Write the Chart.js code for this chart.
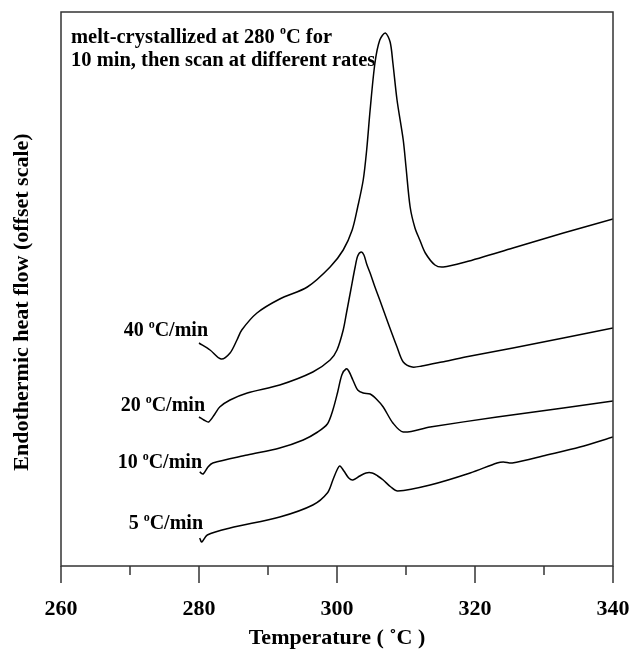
<!DOCTYPE html>
<html>
<head>
<meta charset="utf-8">
<script src="https://cdn.jsdelivr.net/npm/chart.js@4"></script>
<style>
  body { margin: 0; background: #fff; }
  canvas { display: block; }
</style>
</head>
<body>
<canvas id="dsc-chart" width="632" height="651"></canvas>
<script>
// temperature (C) and offset heat flow (arbitrary units)
const temp40 = [280.0, 281.6, 283.2, 284.5, 285.5, 286.2, 288.4, 291.7, 295.7, 299.0, 300.9, 302.2, 303.0, 303.8, 304.3, 304.8, 305.5, 306.2, 307.0, 307.7, 308.1, 308.7, 309.6, 310.0, 310.6, 311.3, 312.0, 312.8, 314.2, 315.4, 318.6, 325.5, 332.8, 340.0];
const flow40 = [223, 216, 207, 213, 226, 236, 253, 267, 279, 299, 316, 336, 359, 386, 416, 456, 503, 526, 533, 524, 503, 466, 426, 399, 359, 338, 326, 313, 301, 299, 304, 318, 333, 347];

const temp20 = [280.0, 280.7, 281.4, 282.3, 283.0, 284.5, 287.0, 291.7, 296.5, 299.0, 300.0, 300.9, 301.4, 302.0, 302.6, 303.0, 303.5, 303.9, 304.3, 304.8, 305.5, 306.2, 307.4, 308.7, 309.6, 310.9, 312.3, 315.2, 318.6, 325.5, 332.8, 340.0];
const flow20 = [149, 146, 144, 152, 159, 166, 173, 181, 194, 206, 216, 236, 254, 276, 298, 310, 314, 311, 302, 293, 279, 266, 243, 219, 204, 199, 200, 204, 209, 218, 228, 238];

const temp10 = [280.1, 280.6, 281.3, 282.0, 287.0, 291.7, 295.1, 297.2, 298.6, 299.4, 300.1, 300.7, 301.3, 301.7, 302.3, 303.0, 303.8, 304.8, 305.7, 306.7, 308.1, 309.6, 313.5, 323.2, 332.8, 340.0];
const flow10 = [94, 92, 99, 103, 111, 118, 126, 134, 142, 156, 174, 191, 197, 195, 186, 176, 173, 172, 167, 159, 143, 134, 139, 149, 158, 165];

const temp5 = [280.1, 280.4, 281.2, 284.5, 291.7, 296.5, 298.6, 299.4, 300.0, 300.4, 301.0, 301.7, 302.3, 303.3, 304.2, 305.1, 305.9, 306.7, 307.8, 308.8, 313.5, 319.3, 323.2, 324.1, 325.4, 330.4, 335.2, 340.0];
const flow5 = [28, 24, 31, 38, 49, 61, 73, 86, 96, 100, 95, 88, 86, 90, 93, 93, 90, 86, 79, 75, 81, 93, 103, 104, 103, 111, 119, 129];

const xTicks = [260, 270, 280, 290, 300, 310, 320, 330, 340];
const xLabels = ['260', '', '280', '', '300', '', '320', '', '340'];

const serif = '"Liberation Serif", "Times New Roman", serif';

function toPoints(xs, ys) {
  return xs.map((x, i) => ({ x: x, y: ys[i] }));
}

function curve(xs, ys) {
  return {
    data: toPoints(xs, ys),
    showLine: true,
    borderColor: '#000',
    borderWidth: 1.5,
    pointRadius: 0,
    tension: 0.3,
    fill: false
  };
}

// text with a raised small "o" for the degree sign
function drawParts(ctx, parts, x, y, size, align) {
  const big = 'bold ' + size + 'px ' + serif;
  const small = 'bold ' + Math.round(size * 0.6) + 'px ' + serif;
  let w = 0;
  parts.forEach(p => { ctx.font = p.sup ? small : big; w += ctx.measureText(p.t).width; });
  let cx = align === 'right' ? x - w : x;
  ctx.textAlign = 'left';
  ctx.textBaseline = 'alphabetic';
  parts.forEach(p => {
    ctx.font = p.sup ? small : big;
    ctx.fillText(p.t, cx, p.sup ? y - size * 0.42 : y);
    cx += ctx.measureText(p.t).width;
  });
}

const decor = {
  id: 'decor',
  afterDatasetsDraw(chart) {
    const ctx = chart.ctx;
    const a = chart.chartArea;
    const xs = chart.scales.x;
    ctx.save();
    ctx.strokeStyle = '#333';
    ctx.lineWidth = 1.5;
    ctx.strokeRect(a.left, a.top, a.right - a.left, a.bottom - a.top);

    ctx.fillStyle = '#000';
    xTicks.forEach((v, i) => {
      const px = xs.getPixelForValue(v);
      const len = xLabels[i] ? 17 : 9;
      ctx.beginPath();
      ctx.moveTo(px, a.bottom);
      ctx.lineTo(px, a.bottom + len);
      ctx.stroke();
      if (xLabels[i]) {
        ctx.font = 'bold 22px ' + serif;
        ctx.textAlign = 'center';
        ctx.textBaseline = 'alphabetic';
        ctx.fillText(xLabels[i], px, 615);
      }
    });

    ctx.font = 'bold 22px ' + serif;
    ctx.textAlign = 'center';
    ctx.fillText('Temperature ( \u02DAC )', (a.left + a.right) / 2, 644);

    ctx.save();
    ctx.translate(28, 302);
    ctx.rotate(-Math.PI / 2);
    ctx.fillText('Endothermic heat flow (offset scale)', 0, 0);
    ctx.restore();

    drawParts(ctx, [{ t: 'melt-crystallized at 280 ' }, { t: 'o', sup: true }, { t: 'C for' }], 71, 43, 20.5, 'left');
    drawParts(ctx, [{ t: '10 min, then scan at different rates' }], 71, 66, 20.5, 'left');

    drawParts(ctx, [{ t: '40 ' }, { t: 'o', sup: true }, { t: 'C/min' }], 208, 336, 20, 'right');
    drawParts(ctx, [{ t: '20 ' }, { t: 'o', sup: true }, { t: 'C/min' }], 205, 411, 20, 'right');
    drawParts(ctx, [{ t: '10 ' }, { t: 'o', sup: true }, { t: 'C/min' }], 202, 468, 20, 'right');
    drawParts(ctx, [{ t: '5 ' }, { t: 'o', sup: true }, { t: 'C/min' }], 203, 529, 20, 'right');
    ctx.restore();
  }
};

new Chart(document.getElementById('dsc-chart'), {
  type: 'scatter',
  data: {
    datasets: [
      curve(temp40, flow40),
      curve(temp20, flow20),
      curve(temp10, flow10),
      curve(temp5, flow5)
    ]
  },
  options: {
    responsive: false,
    animation: false,
    layout: {
      padding: { left: 61, right: 19, top: 12, bottom: 85 }
    },
    scales: {
      x: { type: 'linear', min: 260, max: 340, display: false },
      y: { min: 0, max: 554, display: false }
    },
    plugins: {
      legend: { display: false },
      tooltip: { enabled: false }
    }
  },
  plugins: [decor]
});
</script>
</body>
</html>
